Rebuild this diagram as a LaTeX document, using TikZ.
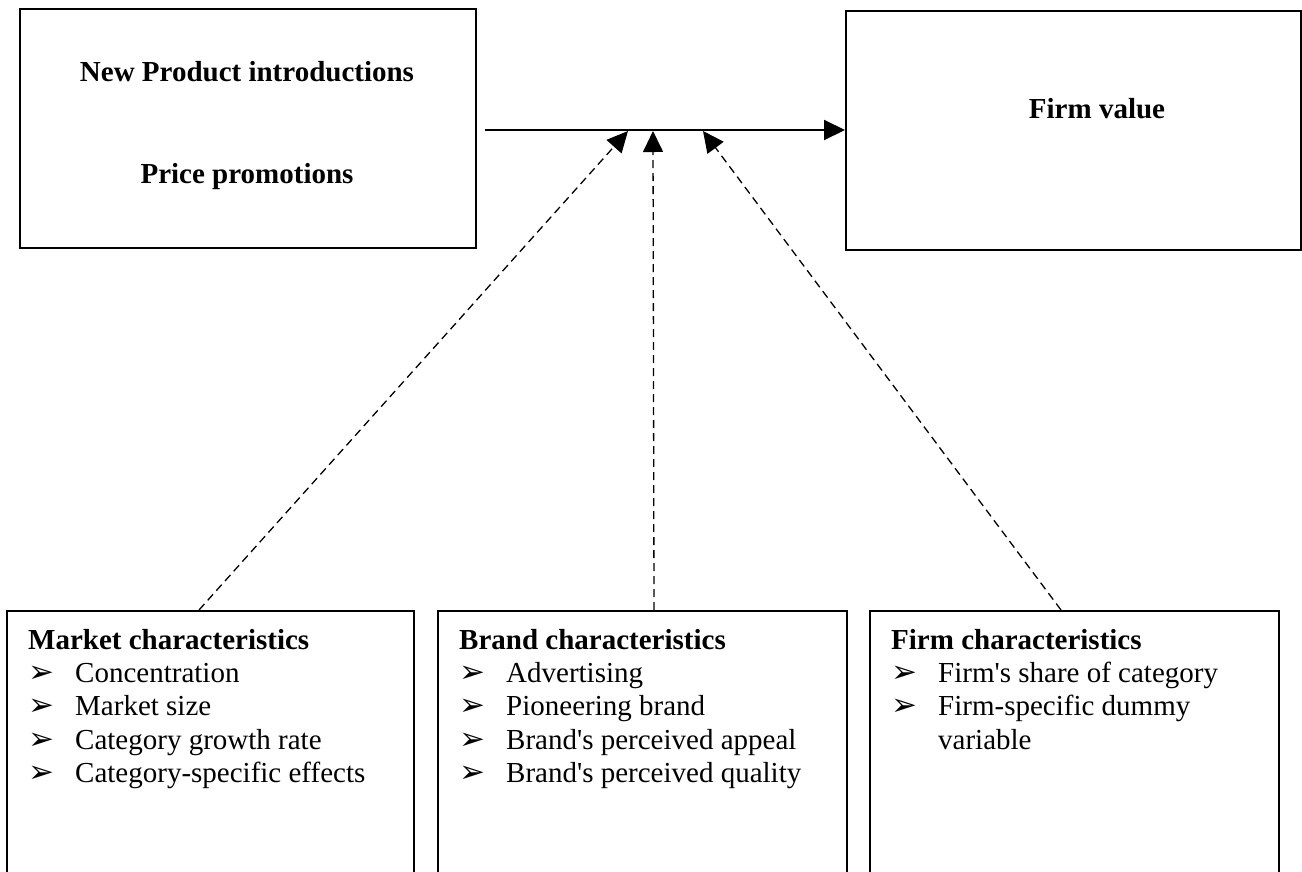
\documentclass[tikz,border=0pt]{standalone}
\usepackage{fontspec}
\setmainfont{Liberation Serif}
\newfontfamily\dingfont{DejaVu Sans}
\usetikzlibrary{positioning, arrows.meta}
\newcommand{\itm}{\makebox[47pt][l]{\dingfont\fontsize{31}{31}\selectfont ➢}}
\tikzset{
x=1pt, y=-1pt, % one unit is one pixel of the original, y runs down
>={Triangle[length=21pt, width=20pt]}, % solid triangular heads
box/.style={draw, line width=2pt, anchor=north west, inner sep=0pt}, % outline of every box
title/.style={font=\bfseries\fontsize{29}{33.3}\selectfont, anchor=base, inner sep=0pt}, % bold labels in the top boxes
items/.style={font=\fontsize{29}{33.3}\selectfont, align=left, inner sep=0pt}, % lists in the bottom boxes
link/.style={->, line width=1.3pt, dash pattern=on 8pt off 5pt}, % dashed arrows onto the main path
}

\begin{document}
\begin{tikzpicture}
    \useasboundingbox (0,0) rectangle (1302,871);
    % top row
    \node[box, minimum width=456pt, minimum height=239pt] (inputs) at (19,8) {};
    \node[title] (npi) at (247,81) {New Product introductions};
    \node[title] (pp) at (247,183) {Price promotions};
    \node[box, minimum width=455pt, minimum height=239pt] (value) at (845,10) {};
    \node[title] (fv) at (1097,118) {Firm value};
    \coordinate (start) at (485,130);
    \draw[->, line width=2pt] (start) -- (start -| value.west);
    \coordinate (t1) at (628,131);
    \coordinate (t2) at (653,131);
    \coordinate (t3) at (703,131);
    % bottom row
    \node[box, minimum width=407pt, minimum height=300pt] (market) at (6,610) {};
    \node[box, minimum width=409pt, minimum height=300pt] (brand) at (437,610) {};
    \node[box, minimum width=409pt, minimum height=300pt] (firm) at (869,610) {};
    \node[items, below right=19pt and 22pt of market.north west] (marketlist) {\textbf{Market characteristics}\\
        \itm Concentration\\
        \itm Market size\\
        \itm Category growth rate\\
        \itm Category-specific effects};
    \node[items, below right=19pt and 22pt of brand.north west] (brandlist) {\textbf{Brand characteristics}\\
        \itm Advertising\\
        \itm Pioneering brand\\
        \itm Brand\textquotesingle s perceived appeal\\
        \itm Brand\textquotesingle s perceived quality};
    \node[items, below right=19pt and 22pt of firm.north west] (firmlist) {\textbf{Firm characteristics}\\
        \itm Firm\textquotesingle s share of category\\
        \itm Firm-specific dummy\\
        \hspace*{47pt}variable};
    \draw[link] ([xshift=-11.5pt]market.north) -- (t1);
    \draw[link] ([xshift=11.5pt]brand.north) -- (t2);
    \draw[link] ([xshift=-13.5pt]firm.north) -- (t3);
\end{tikzpicture}
\end{document}
